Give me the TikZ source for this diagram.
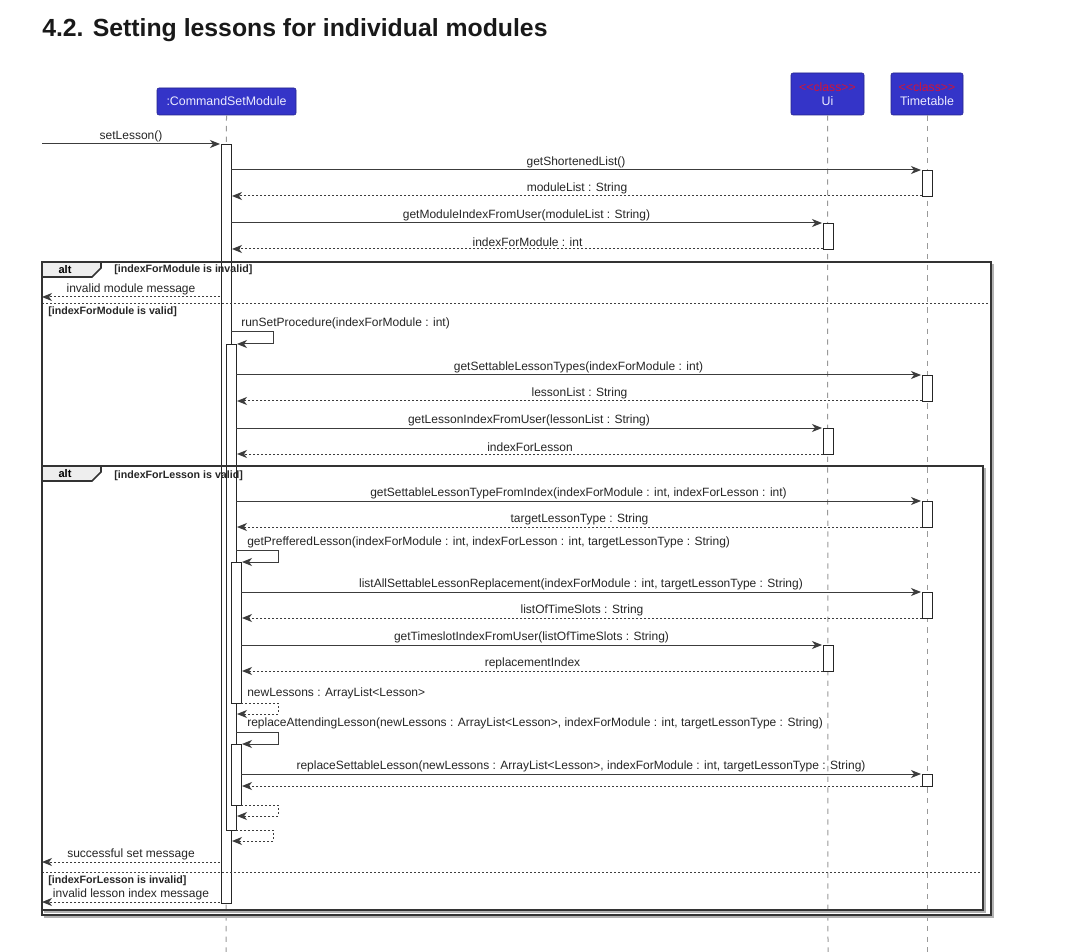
\documentclass[tikz,border=0pt]{standalone}
\usepackage{fontspec}
\setmainfont{Liberation Sans}
\usetikzlibrary{arrows.meta}
\definecolor{partblue}{RGB}{52,52,200}
\definecolor{stereo}{RGB}{210,20,55}
\definecolor{lncol}{RGB}{60,60,60}
\definecolor{tabfill}{RGB}{238,238,238}
\tikzset{
  x=0.75pt,y=-0.75pt,
  tip/.tip={Stealth[length=7.5pt,width=6pt,inset=2.2pt]},
  call/.style={draw=lncol,line width=0.75pt,-tip},
  ret/.style={draw=lncol,line width=0.75pt,dash pattern=on 1.5pt off 1.5pt,-tip},
  selfret/.style={draw=lncol,line width=0.75pt,dash pattern=on 1.5pt off 1.5pt},
  lbl/.style={font=\fontsize{9}{10}\selectfont,text=black!85,inner sep=0pt,above=1.3pt},
  slbl/.style={font=\fontsize{9}{10}\selectfont,text=black!85,inner sep=0pt,anchor=base west},
  guard/.style={font=\bfseries\fontsize{8}{9}\selectfont,text=black!85,inner sep=0pt,anchor=base west},
  part/.style={draw=partblue!70!black,fill=partblue,rounded corners=1.5pt,inner sep=0pt,line width=0.4pt},
  ptext/.style={text=white!92!blue,font=\fontsize{9.3}{10}\selectfont,inner sep=0pt},
  stxt/.style={text=stereo,font=\fontsize{9.2}{10}\selectfont,inner sep=0pt},
  lifeline/.style={draw=gray!80,line width=0.75pt,dash pattern=on 4pt off 4pt},
  act/.style={draw=black!85,fill=white,line width=0.75pt},
  frame/.style={draw=black!80,line width=1.3pt},
  shadow/.style={draw=black!30,line width=1.3pt},
  sep/.style={draw=black!75,line width=0.75pt,dash pattern=on 1.5pt off 1.5pt},
}
\newcommand\msgcall[5]{\coordinate (#1s) at (#3,#2); \coordinate (#1e) at (#4,#2);
  \draw[call] (#1s) -- node[lbl]{#5} (#1e);}
\newcommand\msgret[5]{\coordinate (#1s) at (#3,#2); \coordinate (#1e) at (#4,#2);
  \draw[ret] (#1s) -- node[lbl]{#5} (#1e);}
\newcommand\actbox[4]{\node[act,minimum width=7.5pt,minimum height={(#4-#3)*0.75pt},inner sep=0pt,anchor=north] (#1) at (#2,#3) {};}
\begin{document}
\begin{tikzpicture}
\path[use as bounding box,fill=white] (0,0) rectangle (1068,952);
% title
\node[anchor=base west,inner sep=0pt,font=\bfseries\fontsize{18.6}{21}\selectfont,text=black!90] (title) at (42,37) {4.2. Setting lessons for individual modules};

% participants
\node[part,minimum width=104.25pt,minimum height=20.25pt] (csm) at (226.5,101.5) {};
\node[ptext] (csmT) at (csm.center) {:CommandSetModule};
\node[part,minimum width=54.75pt,minimum height=31.5pt] (ui) at (827.5,94) {};
\node[stxt] (uiS) at (827.5,87) {\symbol{60}\symbol{60}class\symbol{62}\symbol{62}};
\node[ptext] (uiT) at (827.5,101.5) {Ui};
\node[part,minimum width=54pt,minimum height=31.5pt] (tt) at (927,94) {};
\node[stxt] (ttS) at (927,87) {\symbol{60}\symbol{60}class\symbol{62}\symbol{62}};
\node[ptext] (ttT) at (927,101.5) {Timetable};

% lifelines
\coordinate (csmEnd) at (226,952);
\coordinate (uiEnd) at (828,952);
\coordinate (ttEnd) at (927,952);
\draw[lifeline] (csm.south) -- (csmEnd);
\draw[lifeline] (ui.south) -- (uiEnd);
\draw[lifeline] (tt.south) -- (ttEnd);

% activations
\actbox{a1}{226}{144}{903}
\actbox{a2}{231}{344}{830}
\actbox{a3}{236}{562}{703}
\actbox{a4}{236}{744}{805}
\actbox{t1}{927}{170}{196}
\actbox{t2}{927}{375}{401}
\actbox{t3}{927}{501}{527}
\actbox{t4}{927}{592}{618}
\actbox{t5}{927}{774}{786}
\actbox{u1}{828}{223}{249}
\actbox{u2}{828}{428}{454}
\actbox{u3}{828}{645}{671}

% messages
\msgcall{m0}{144}{42}{220}{setLesson()}
\msgcall{m1}{170}{231}{921}{getShortenedList()}
\msgret{r1}{196}{922}{232}{moduleList : String}
\msgcall{m2}{223}{231}{822}{getModuleIndexFromUser(moduleList : String)}
\msgret{r2}{249}{823}{232}{indexForModule : int}
\msgret{r3}{297}{220}{42}{invalid module message}

% runSetProcedure self call
\node[slbl] (l4) at (241,327) {runSetProcedure(indexForModule : int)};
\coordinate (s4a) at (231,332); \coordinate (s4b) at (273,332);
\coordinate (s4c) at (273,344); \coordinate (s4d) at (237,344);
\draw[call] (s4a) -- (s4b) -- (s4c) -- (s4d);

\msgcall{m5}{375}{236}{921}{getSettableLessonTypes(indexForModule : int)}
\msgret{r5}{401}{922}{237}{lessonList : String}
\msgcall{m6}{428}{236}{822}{getLessonIndexFromUser(lessonList : String)}
\msgret{r6}{454}{823}{237}{indexForLesson}
\msgcall{m7}{501}{236}{921}{getSettableLessonTypeFromIndex(indexForModule : int, indexForLesson : int)}
\msgret{r7}{527}{922}{237}{targetLessonType : String}

% getPrefferedLesson self call
\node[slbl] (l8) at (247,545) {getPrefferedLesson(indexForModule : int, indexForLesson : int, targetLessonType : String)};
\coordinate (s8a) at (236,550); \coordinate (s8b) at (278,550);
\coordinate (s8c) at (278,562); \coordinate (s8d) at (242,562);
\draw[call] (s8a) -- (s8b) -- (s8c) -- (s8d);

\msgcall{m9}{592}{241}{921}{listAllSettableLessonReplacement(indexForModule : int, targetLessonType : String)}
\msgret{r9}{618}{922}{242}{listOfTimeSlots : String}
\msgcall{m10}{645}{241}{822}{getTimeslotIndexFromUser(listOfTimeSlots : String)}
\msgret{r10}{671}{823}{242}{replacementIndex}

% newLessons return
\node[slbl] (l11) at (247,696) {newLessons : ArrayList<Lesson>};
\coordinate (s11a) at (241,703); \coordinate (s11b) at (278,703);
\coordinate (s11c) at (278,714); \coordinate (s11d) at (237,714);
\draw[selfret] (s11a) -- (s11b) -- (s11c);
\draw[ret] (s11c) -- (s11d);

% replaceAttendingLesson self call
\node[slbl] (l12) at (247,726) {replaceAttendingLesson(newLessons : ArrayList<Lesson>, indexForModule : int, targetLessonType : String)};
\coordinate (s12a) at (236,732); \coordinate (s12b) at (278,732);
\coordinate (s12c) at (278,744); \coordinate (s12d) at (242,744);
\draw[call] (s12a) -- (s12b) -- (s12c) -- (s12d);

\msgcall{m13}{774}{241}{921}{replaceSettableLesson(newLessons : ArrayList<Lesson>, indexForModule : int, targetLessonType : String)}
\msgret{r13}{786}{922}{242}{}

% returns from nested activations
\coordinate (s14a) at (241,805); \coordinate (s14b) at (278,805);
\coordinate (s14c) at (278,816); \coordinate (s14d) at (237,816);
\draw[selfret] (s14a) -- (s14b) -- (s14c);
\draw[ret] (s14c) -- (s14d);
\coordinate (s15a) at (236,830); \coordinate (s15b) at (273,830);
\coordinate (s15c) at (273,841); \coordinate (s15d) at (232,841);
\draw[selfret] (s15a) -- (s15b) -- (s15c);
\draw[ret] (s15c) -- (s15d);

\msgret{r16}{862}{220}{42}{successful set message}
\msgret{r17}{902}{220}{42}{invalid lesson index message}

% guards
\node[guard] (g1) at (114,273) {[indexForModule is invalid]};
\node[guard] (g2) at (48,315) {[indexForModule is valid]};
\node[guard] (g3) at (114,478) {[indexForLesson is valid]};
\node[guard] (g4) at (48,883) {[indexForLesson is invalid]};

% separators
\coordinate (sep1a) at (42,304); \coordinate (sep1b) at (991,304);
\draw[sep] (sep1a) -- (sep1b);
\coordinate (sep2a) at (42,872); \coordinate (sep2b) at (983,872);
\draw[sep] (sep2a) -- (sep2b);

% outer alt frame
\draw[shadow] (44,917) -- (993,917) -- (993,264);
\draw[frame] (42,262) rectangle (991,915);
\draw[frame,fill=tabfill] (42,262) -- (101,262) -- (101,268) -- (92,277) -- (42,277) -- cycle;
\node[font=\bfseries\fontsize{8.3}{9}\selectfont,inner sep=0pt] (alt1) at (65,270) {alt};
% inner alt frame
\draw[shadow] (44,912) -- (985,912) -- (985,468);
\draw[frame] (42,466) rectangle (983,910);
\draw[frame,fill=tabfill] (42,466) -- (101,466) -- (101,472) -- (92,481) -- (42,481) -- cycle;
\node[font=\bfseries\fontsize{8.3}{9}\selectfont,inner sep=0pt] (alt2) at (65,474) {alt};
\end{tikzpicture}
\end{document}
